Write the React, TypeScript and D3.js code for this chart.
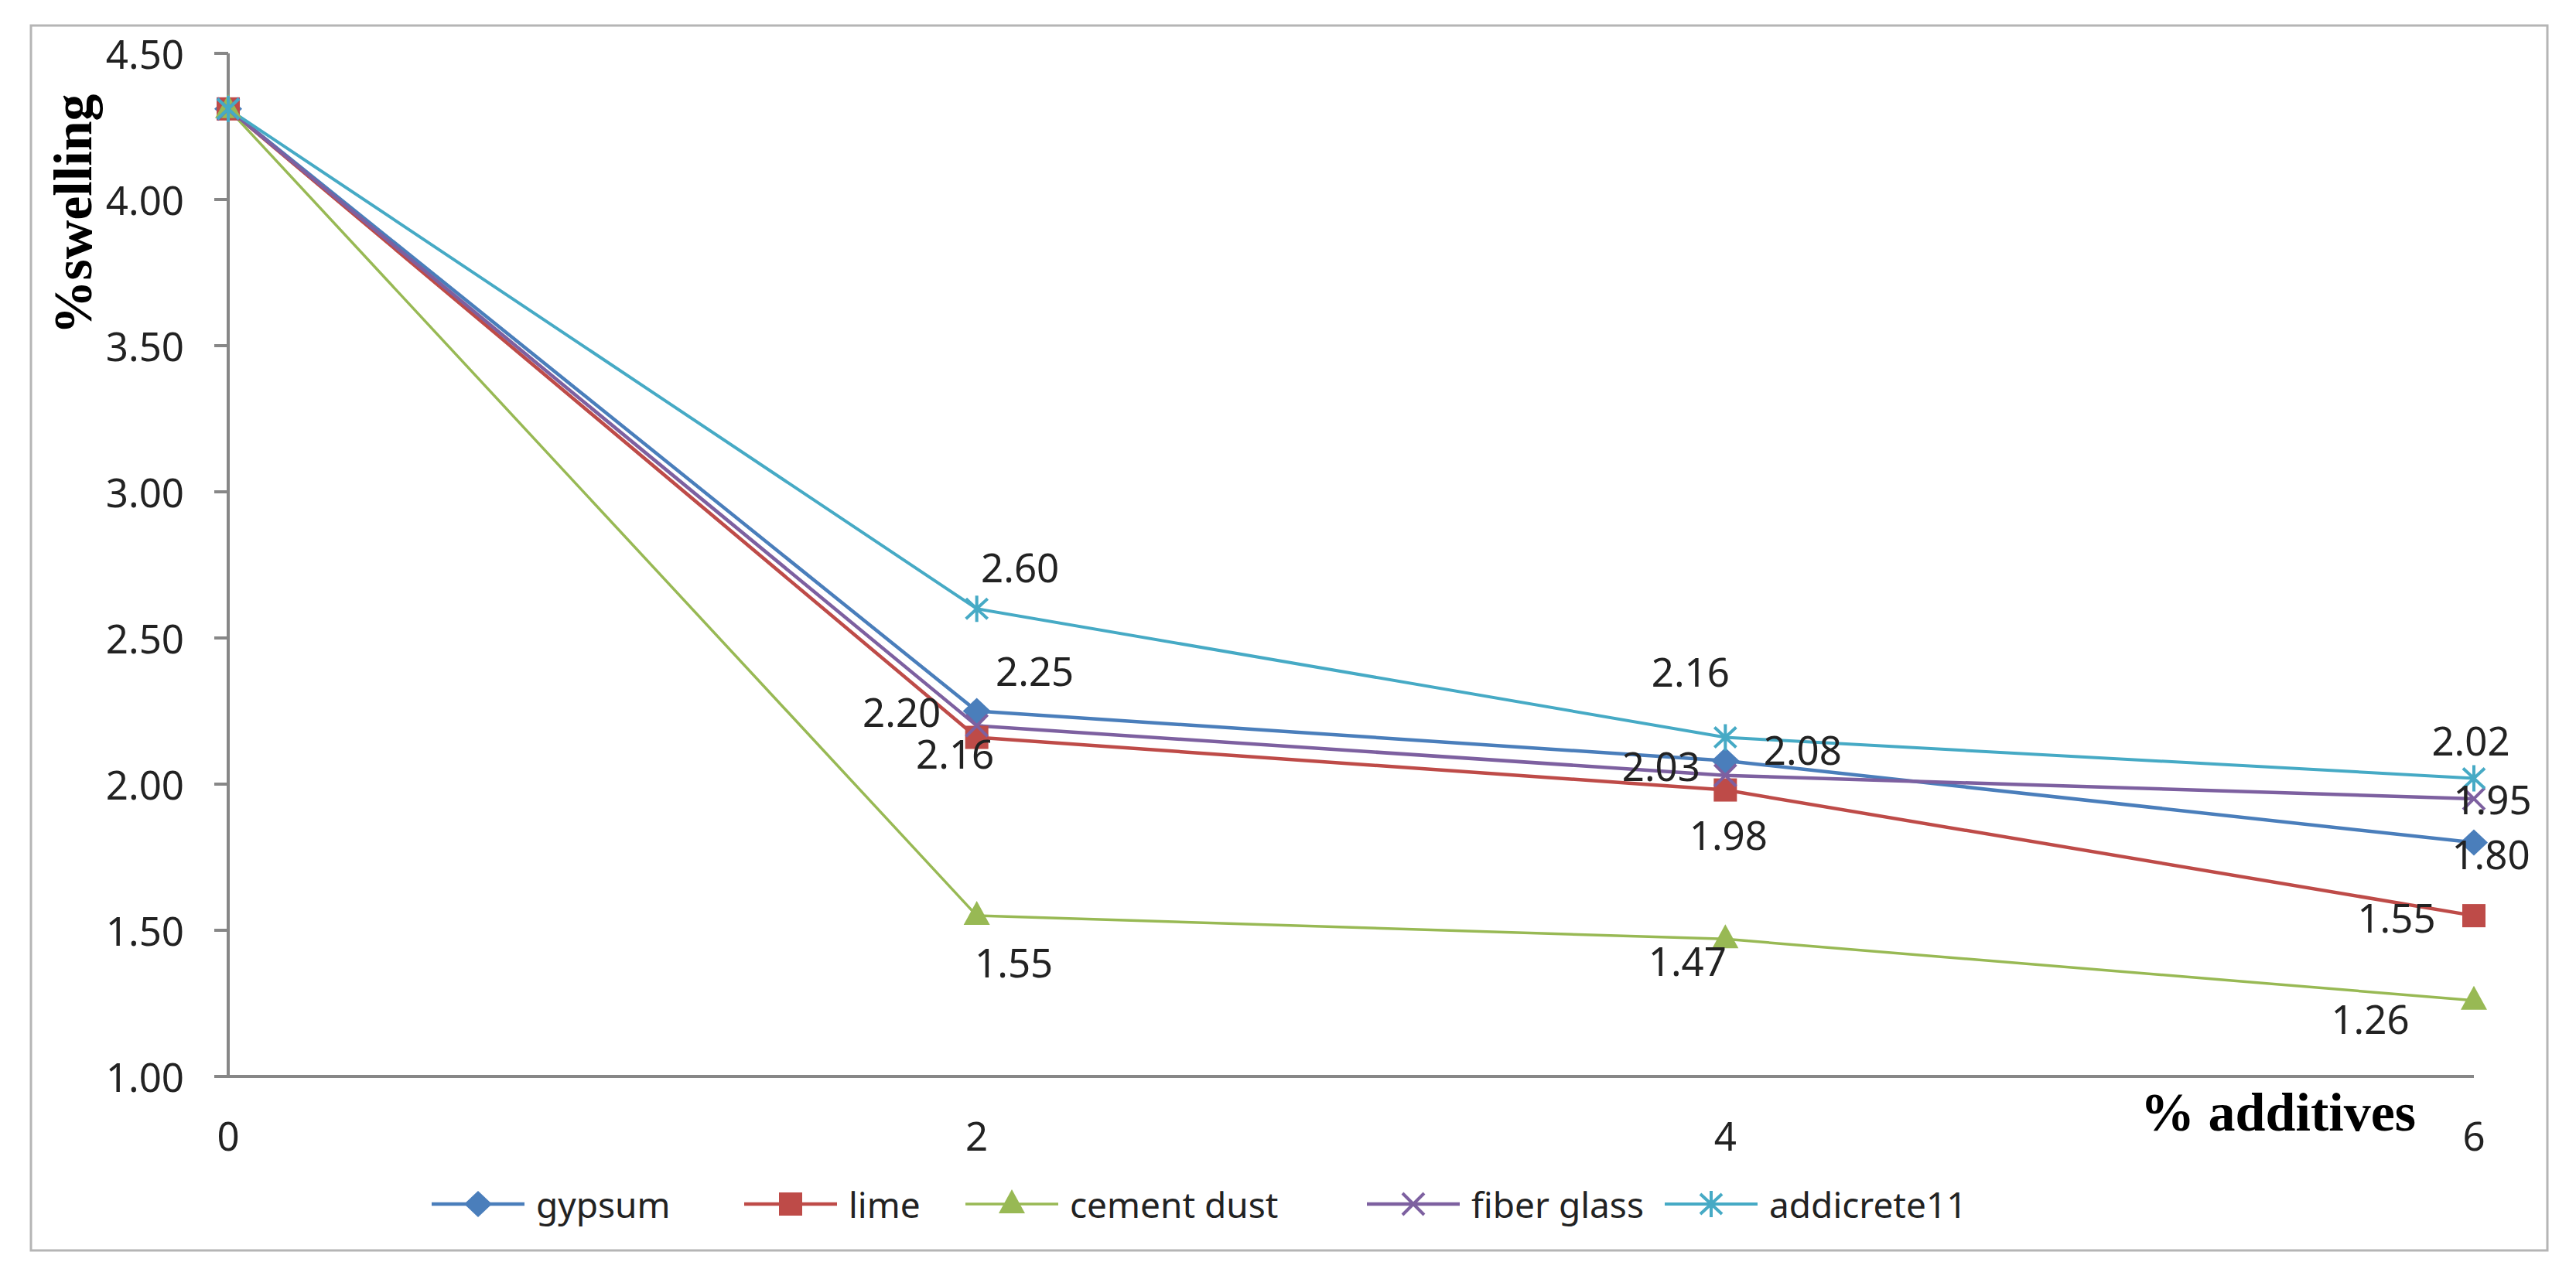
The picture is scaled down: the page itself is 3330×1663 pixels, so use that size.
import React from "react";
import * as d3 from "d3";

const additives = [0, 2, 4, 6];
const seriesNames = ["gypsum", "lime", "cement dust", "fiber glass", "addicrete11"];
const gypsum = [4.31, 2.25, 2.08, 1.8];
const lime = [4.31, 2.16, 1.98, 1.55];
const cementDust = [4.31, 1.55, 1.47, 1.26];
const fiberGlass = [4.31, 2.2, 2.03, 1.95];
const addicrete11 = [4.31, 2.6, 2.16, 2.02];
const yTicks = [1.0, 1.5, 2.0, 2.5, 3.0, 3.5, 4.0, 4.5];

// layout / style (not data)
const colors = ["#4A7EBB", "#BE4B48", "#98B954", "#7D60A0", "#46AAC5"];
const markers = ["diamond", "square", "triangle", "x", "star"];
const lineWidths = [4.5, 4.5, 3.5, 4.5, 4];
// label offsets (dx, dy) per series per point index 1..3 (index 0 has no label)
const labelOffsets: [number, number][][] = [
  [[0, 0], [75, -53], [100, -15], [22, 14]],
  [[0, 0], [-28, 20], [4, 57], [-100, 2]],
  [[0, 0], [48, 60], [-49, 28], [-134, 23]],
  [[0, 0], [-97, -18], [-83, -13], [24, 0]],
  [[0, 0], [56, -54], [-45, -86], [-4, -49]],
];
const legendX = [558, 962, 1248, 1767, 2152];

const W = 3330;
const H = 1663;

function Marker({ type, x, y, color }: { type: string; x: number; y: number; color: string }) {
  if (type === "diamond") {
    return <path d={`M${x},${y - 17}L${x + 18},${y}L${x},${y + 17}L${x - 18},${y}Z`} fill={color} />;
  }
  if (type === "square") {
    return <rect x={x - 15} y={y - 15} width={30} height={30} fill={color} />;
  }
  if (type === "triangle") {
    return <path d={`M${x},${y - 19}L${x + 17},${y + 12}L${x - 17},${y + 12}Z`} fill={color} />;
  }
  if (type === "x") {
    return (
      <path
        d={`M${x - 14},${y - 14}L${x + 14},${y + 14}M${x - 14},${y + 14}L${x + 14},${y - 14}`}
        stroke={color}
        strokeWidth={4}
        fill="none"
      />
    );
  }
  return (
    <path
      d={`M${x - 14},${y - 13}L${x + 14},${y + 13}M${x - 14},${y + 13}L${x + 14},${y - 13}M${x},${y - 17}L${x},${y + 17}`}
      stroke={color}
      strokeWidth={4}
      fill="none"
    />
  );
}

export default function App() {
  const x = d3.scaleLinear().domain([0, 6]).range([295, 3198]);
  const y = d3.scaleLinear().domain([1, 4.5]).range([1392, 69]);
  const all = [gypsum, lime, cementDust, fiberGlass, addicrete11];
  const line = d3
    .line<number>()
    .x((_, i) => x(additives[i]))
    .y((d) => y(d));
  const fmt = d3.format(".2f");
  const numFont = "'Noto Sans', 'Open Sans', sans-serif";
  const serif = "'Liberation Serif', 'DejaVu Serif', serif";
  const axisColor = "#878787";

  return (
    <svg
      width={W}
      height={H}
      style={{ position: "absolute", left: 0, top: 0, background: "#fff" }}
    >
      <rect x={0} y={0} width={W} height={H} fill="#fff" />
      <rect x={40} y={33} width={3253} height={1584} fill="none" stroke="#B5B5B5" strokeWidth={3} />

      {/* y axis */}
      <line x1={x(0)} x2={x(0)} y1={y(4.5)} y2={y(1)} stroke={axisColor} strokeWidth={4} />
      {yTicks.map((t) => (
        <g key={t}>
          <line x1={x(0) - 18} x2={x(0)} y1={y(t)} y2={y(t)} stroke={axisColor} strokeWidth={4} />
          <text
            x={x(0) - 57}
            y={y(t)}
            textAnchor="end"
            dominantBaseline="central"
            fontFamily={numFont}
            fontSize={51}
            fill="#222"
          >
            {fmt(t)}
          </text>
        </g>
      ))}
      {/* x axis */}
      <line x1={x(0)} x2={x(6)} y1={y(1)} y2={y(1)} stroke={axisColor} strokeWidth={4} />
      {additives.map((a) => (
        <text
          key={a}
          x={x(a)}
          y={1468}
          textAnchor="middle"
          dominantBaseline="central"
          fontFamily={numFont}
          fontSize={51}
          fill="#222"
        >
          {a}
        </text>
      ))}

      {/* axis titles */}
      <text
        transform="translate(118,277) rotate(-90)"
        textAnchor="middle"
        fontFamily={serif}
        fontWeight="bold"
        fontSize={70}
        fill="#000"
      >
        %swelling
      </text>
      <text
        x={3123}
        y={1462}
        textAnchor="end"
        fontFamily={serif}
        fontWeight="bold"
        fontSize={70}
        fill="#000"
      >
        % additives
      </text>

      {/* series lines */}
      {all.map((vals, si) => (
        <path key={si} d={line(vals) || ""} fill="none" stroke={colors[si]} strokeWidth={lineWidths[si]} />
      ))}
      {/* markers */}
      {all.map((vals, si) =>
        vals.map((v, i) => (
          <Marker key={`${si}-${i}`} type={markers[si]} x={x(additives[i])} y={y(v)} color={colors[si]} />
        ))
      )}
      {/* data labels */}
      {all.map((vals, si) =>
        vals.map((v, i) =>
          i === 0 ? null : (
            <text
              key={`l${si}-${i}`}
              x={x(additives[i]) + labelOffsets[si][i][0]}
              y={y(v) + labelOffsets[si][i][1]}
              textAnchor="middle"
              dominantBaseline="central"
              fontFamily={numFont}
              fontSize={51}
              fill="#222"
            >
              {fmt(v)}
            </text>
          )
        )
      )}

      {/* legend */}
      {seriesNames.map((n, si) => (
        <g key={n}>
          <line
            x1={legendX[si]}
            x2={legendX[si] + 120}
            y1={1557}
            y2={1557}
            stroke={colors[si]}
            strokeWidth={lineWidths[si]}
          />
          <Marker type={markers[si]} x={legendX[si] + 60} y={1557} color={colors[si]} />
          <text
            x={legendX[si] + 135}
            y={1557}
            dominantBaseline="central"
            fontFamily={numFont}
            fontSize={46}
            fill="#222"
          >
            {n}
          </text>
        </g>
      ))}
    </svg>
  );
}
